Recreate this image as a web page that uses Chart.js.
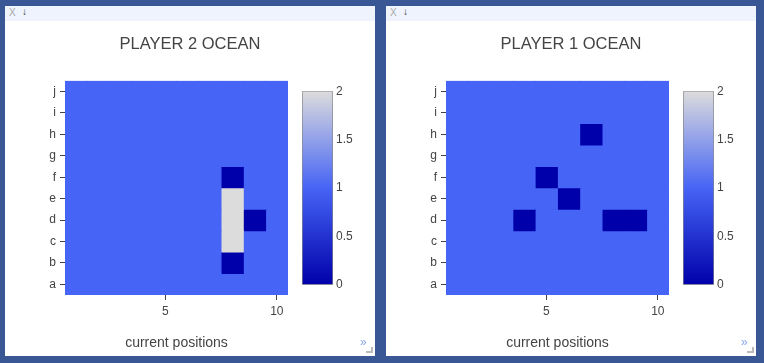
<!DOCTYPE html>
<html lang="en">
<head>
    <meta charset="UTF-8">
    <title>Ocean heatmaps</title>
    <script src="https://cdn.jsdelivr.net/npm/chart.js"></script>
    <style>
        body { margin: 0; width: 764px; height: 363px; overflow: hidden; background: #3a5795; font-family: "Liberation Sans", Arial, sans-serif; }
        .panel { position: absolute; top: 6px; width: 370px; height: 350px; background: #fff; }
        .topbar { position: absolute; left: 0; top: 0; width: 370px; height: 15px; background: #eef3fd; }
        .topbar .close { position: absolute; left: 4px; top: 1px; font-size: 10px; color: #aaa; }
        .topbar .down { position: absolute; left: 17px; top: 0px; font-size: 10px; font-weight: bold; color: #333; }
        .panel canvas { position: absolute; }
        .more { position: absolute; left: 355px; top: 329px; font-size: 12px; color: #8aa8ee; }
        .grip { position: absolute; left: 361px; top: 341px; width: 5px; height: 4px; border-right: 2px solid #bbb; border-bottom: 2px solid #bbb; }
    </style>
</head>
<body>
    <div class="panel" style="left:5px">
        <div class="topbar"><span class="close">X</span><span class="down">&#8595;</span></div>
        <canvas id="heatP2" width="370" height="335" style="left:0;top:15px"></canvas>
        <canvas id="barP2" width="71" height="214" style="left:297px;top:75px"></canvas>
        <span class="more">&raquo;</span><div class="grip"></div>
    </div>
    <div class="panel" style="left:386px">
        <div class="topbar"><span class="close">X</span><span class="down">&#8595;</span></div>
        <canvas id="heatP1" width="370" height="335" style="left:0;top:15px"></canvas>
        <canvas id="barP1" width="71" height="214" style="left:297px;top:75px"></canvas>
        <span class="more">&raquo;</span><div class="grip"></div>
    </div>
    <script>
        // rows a..j (bottom to top), columns 1..10
        const rowLabels = ['a', 'b', 'c', 'd', 'e', 'f', 'g', 'h', 'i', 'j'];
        const columns = [1, 2, 3, 4, 5, 6, 7, 8, 9, 10];
        const xTicks = [5, 10];
        const colorTicks = [0, 0.5, 1, 1.5, 2];

        const player2Ocean = [
            [1, 1, 1, 1, 1, 1, 1, 1, 1, 1], // a
            [1, 1, 1, 1, 1, 1, 1, 0, 1, 1], // b
            [1, 1, 1, 1, 1, 1, 1, 2, 1, 1], // c
            [1, 1, 1, 1, 1, 1, 1, 2, 0, 1], // d
            [1, 1, 1, 1, 1, 1, 1, 2, 1, 1], // e
            [1, 1, 1, 1, 1, 1, 1, 0, 1, 1], // f
            [1, 1, 1, 1, 1, 1, 1, 1, 1, 1], // g
            [1, 1, 1, 1, 1, 1, 1, 1, 1, 1], // h
            [1, 1, 1, 1, 1, 1, 1, 1, 1, 1], // i
            [1, 1, 1, 1, 1, 1, 1, 1, 1, 1]  // j
        ];

        const player1Ocean = [
            [1, 1, 1, 1, 1, 1, 1, 1, 1, 1], // a
            [1, 1, 1, 1, 1, 1, 1, 1, 1, 1], // b
            [1, 1, 1, 1, 1, 1, 1, 1, 1, 1], // c
            [1, 1, 1, 0, 1, 1, 1, 0, 0, 1], // d
            [1, 1, 1, 1, 1, 0, 1, 1, 1, 1], // e
            [1, 1, 1, 1, 0, 1, 1, 1, 1, 1], // f
            [1, 1, 1, 1, 1, 1, 1, 1, 1, 1], // g
            [1, 1, 1, 1, 1, 1, 0, 1, 1, 1], // h
            [1, 1, 1, 1, 1, 1, 1, 1, 1, 1], // i
            [1, 1, 1, 1, 1, 1, 1, 1, 1, 1]  // j
        ];

        const colorScale = ['#0000aa', '#4664f5', '#dcdcdc'];   // value 0, 1, 2
        const textColor = '#444';

        Chart.defaults.font.family = '"Liberation Sans", Arial, sans-serif';
        Chart.defaults.color = textColor;

        function cellColor(v) {
            return colorScale[v];
        }

        function renderOcean(canvasId, title, grid) {
            const datasets = columns.map(function(c, ci) {
                return {
                    data: rowLabels.map(() => [c - 0.5, c + 0.5]),
                    backgroundColor: rowLabels.map((r, ri) => cellColor(grid[ri][ci])),
                    borderWidth: 0,
                    inflateAmount: 0.4,
                    grouped: false,
                    categoryPercentage: 1,
                    barPercentage: 1
                };
            });

            new Chart(document.getElementById(canvasId), {
                type: 'bar',
                data: { labels: rowLabels, datasets: datasets },
                options: {
                    indexAxis: 'y',
                    responsive: false,
                    animation: false,
                    layout: { padding: 0 },
                    plugins: {
                        legend: { display: false },
                        tooltip: { enabled: false },
                        title: {
                            display: true,
                            text: title,
                            color: textColor,
                            font: { size: 16.5, weight: 'normal' },
                            padding: { top: 14, bottom: 26 }
                        }
                    },
                    scales: {
                        x: {
                            type: 'linear',
                            min: 0.5,
                            max: 10.5,
                            afterBuildTicks: function(axis) {
                                axis.ticks = xTicks.map(v => ({ value: v }));
                            },
                            afterFit: function(axis) { axis.height = 61; },
                            grid: { drawOnChartArea: false, tickLength: 5, color: textColor },
                            border: { display: false },
                            ticks: { padding: 4, font: { size: 12 }, color: textColor },
                            title: {
                                display: true,
                                text: 'current positions',
                                color: textColor,
                                font: { size: 14 },
                                padding: { top: 0, bottom: 4 }
                            }
                        },
                        y: {
                            type: 'category',
                            reverse: true,
                            offset: true,
                            afterFit: function(axis) { axis.width = 60; },
                            grid: { drawOnChartArea: false, offset: false, tickLength: 5, color: textColor },
                            border: { display: false },
                            ticks: { padding: 4, font: { size: 12 }, color: textColor }
                        },
                        // empty axis that keeps room for the colour bar
                        pad: {
                            type: 'linear',
                            position: 'right',
                            display: true,
                            afterFit: function(axis) { axis.width = 87; },
                            grid: { display: false, drawTicks: false },
                            border: { display: false },
                            ticks: { display: false }
                        }
                    }
                }
            });
        }

        function renderColorBar(canvasId) {
            new Chart(document.getElementById(canvasId), {
                type: 'bar',
                data: {
                    labels: [''],
                    datasets: [{
                        data: [colorTicks[colorTicks.length - 1]],
                        backgroundColor: function(context) {
                            const chart = context.chart;
                            const area = chart.chartArea;
                            if (!area) return colorScale[1];
                            const g = chart.ctx.createLinearGradient(0, area.bottom, 0, area.top);
                            g.addColorStop(0, colorScale[0]);
                            g.addColorStop(0.5, colorScale[1]);
                            g.addColorStop(1, colorScale[2]);
                            return g;
                        },
                        borderColor: '#888',
                        borderWidth: 1,
                        borderSkipped: false,
                        categoryPercentage: 1,
                        barPercentage: 1
                    }]
                },
                options: {
                    responsive: false,
                    animation: false,
                    layout: { padding: { top: 10, bottom: 10, left: 0, right: 0 } },
                    plugins: { legend: { display: false }, tooltip: { enabled: false } },
                    scales: {
                        x: { display: false },
                        y: {
                            position: 'right',
                            min: 0,
                            max: 2,
                            afterBuildTicks: function(axis) {
                                axis.ticks = colorTicks.map(v => ({ value: v }));
                            },
                            afterFit: function(axis) { axis.width = 40; },
                            grid: { display: false, drawTicks: false },
                            border: { display: false },
                            ticks: {
                                padding: 3,
                                font: { size: 12 },
                                color: textColor,
                                callback: function(value) { return String(value); }
                            }
                        }
                    }
                }
            });
        }

        renderOcean('heatP2', 'PLAYER 2 OCEAN', player2Ocean);
        renderColorBar('barP2');
        renderOcean('heatP1', 'PLAYER 1 OCEAN', player1Ocean);
        renderColorBar('barP1');
    </script>
</body>
</html>
